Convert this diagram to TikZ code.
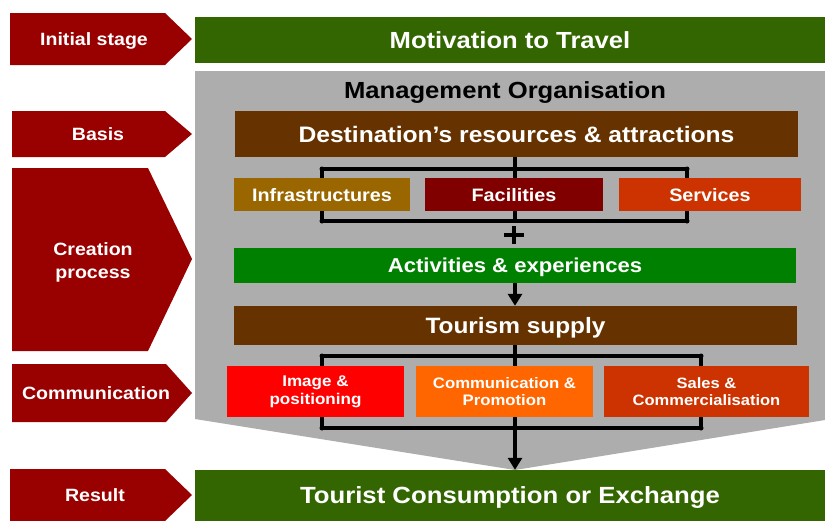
\documentclass[tikz,border=0pt]{standalone}
\usepackage{fontspec}
\setmainfont[FakeStretch=1.1]{Liberation Sans}
\usetikzlibrary{arrows.meta}
\definecolor{lblred}{HTML}{990000}
\definecolor{olivegreen}{HTML}{336600}
\definecolor{greybg}{HTML}{ADADAD}
\definecolor{brownbox}{HTML}{663300}
\definecolor{ochre}{HTML}{996600}
\definecolor{maroonbox}{HTML}{800000}
\definecolor{rustbox}{HTML}{CC3300}
\definecolor{greenbox}{HTML}{008000}
\definecolor{redbox}{HTML}{FF0000}
\definecolor{orangebox}{HTML}{FF6600}
\newcommand{\fsz}[1]{\fontsize{#1}{1.15\dimexpr#1pt\relax}\selectfont\bfseries}
\begin{document}
\begin{tikzpicture}[x=1pt,y=-1pt,
  box/.style={inner sep=0pt, text=white, align=center},
  onebox/.style={box, text depth=0pt},
  lbl/.style={inner sep=0pt, text=white, align=center, font=\fontsize{17.8}{23}\selectfont\bfseries},
  bracket/.style={line width=3.5pt, black},
  conn/.style={line width=3.5pt, black, -{Triangle[length=12pt,width=14pt]}},
  dot/.style={circle, fill=black, inner sep=0pt, minimum size=5pt}
]
\useasboundingbox (0,0) rectangle (825,520);

% left stage arrows
\fill[lblred] (10,13) -- (165,13) -- (192,39) -- (165,65) -- (10,65) -- cycle;
\fill[lblred] (12,111) -- (165,111) -- (192,134) -- (165,157) -- (12,157) -- cycle;
\fill[lblred] (12,168) -- (148,168) -- (192,259) -- (148,351) -- (12,351) -- cycle;
\fill[lblred] (12,364) -- (166,364) -- (192,393) -- (166,422) -- (12,422) -- cycle;
\fill[lblred] (10,469) -- (165,469) -- (192,495) -- (165,521) -- (10,521) -- cycle;
\node[lbl, text depth=0pt] (l1) at (94,39) {Initial stage};
\node[lbl, text depth=0pt] (l2) at (98,134) {Basis};
\node[lbl] (l3) at (93,262) {Creation\\process};
\node[lbl, text depth=0pt] (l4) at (96,393) {Communication};
\node[lbl, text depth=0pt] (l5) at (95,495) {Result};

% grey management area
\fill[greybg] (195,71) -- (825,71) -- (825,420) -- (515,470) -- (195,419) -- cycle;
\node[inner sep=0pt, text depth=0pt, font=\fsz{23.3}] (mgmt) at (505,90) {Management Organisation};

% top and bottom bars
\node[onebox, fill=olivegreen, minimum width=630pt, minimum height=46pt, font=\fsz{23.3}] (motiv) at (510,40) {Motivation to Travel};
\node[onebox, fill=olivegreen, minimum width=630pt, minimum height=51pt, font=\fsz{23.4}] (tourist) at (510,495.5) {Tourist Consumption or Exchange};

% destination
\node[onebox, fill=brownbox, minimum width=563pt, minimum height=46pt, font=\fsz{22.4}] (dest) at (516.5,134) {Destination’s resources \& attractions};

% first bracket
\coordinate (b1tl) at (322,169);
\coordinate (b1tr) at (687,169);
\coordinate (b1bl) at (322,221);
\coordinate (b1br) at (687,221);
\coordinate (b1tc) at (515,169);
\coordinate (b1bc) at (515,221);
\draw[bracket] (dest.south -| b1tc) -- (b1tc) -- (b1bc);
\draw[bracket] (b1tl) -- (b1tr) -- (b1br) -- (b1bl) -- cycle;
\node[dot] (d1) at (b1tl) {};
\node[dot] (d2) at (b1tr) {};
\node[dot] (d3) at (b1bl) {};
\node[dot] (d4) at (b1br) {};

\node[onebox, fill=ochre, minimum width=176pt, minimum height=33pt, font=\fsz{18}] (infra) at (322,194.5) {Infrastructures};
\node[onebox, fill=maroonbox, minimum width=178pt, minimum height=33pt, font=\fsz{18}] (facil) at (514,194.5) {Facilities};
\node[onebox, fill=rustbox, minimum width=182pt, minimum height=33pt, font=\fsz{18}] (serv) at (710,194.5) {Services};

% plus sign
\coordinate (plus) at (514,235);
\draw[line width=4pt] ([xshift=-10pt]plus) -- ([xshift=10pt]plus);
\draw[line width=4pt] ([yshift=-9pt]plus) -- ([yshift=9pt]plus);

\node[onebox, fill=greenbox, minimum width=562pt, minimum height=35pt, font=\fsz{20.1}] (activ) at (515,265.5) {Activities \& experiences};
\node[onebox, fill=brownbox, minimum width=563pt, minimum height=39pt, font=\fsz{22.2}] (supply) at (515.5,325.5) {Tourism supply};
\coordinate (axis) at (515,0);
\draw[conn] (activ.south -| axis) -- (supply.north -| axis);

% second bracket
\coordinate (b2tl) at (322,356);
\coordinate (b2tr) at (701,356);
\coordinate (b2bl) at (322,428);
\coordinate (b2br) at (701,428);
\coordinate (b2tc) at (515,356);
\coordinate (b2bc) at (515,428);
\draw[bracket] (supply.south -| b2tc) -- (b2tc) -- (b2bc);
\draw[bracket] (b2tl) -- (b2tr) -- (b2br) -- (b2bl) -- cycle;
\node[dot] (e1) at (b2tl) {};
\node[dot] (e2) at (b2tr) {};
\node[dot] (e3) at (b2bl) {};
\node[dot] (e4) at (b2br) {};
\draw[conn] (b2bc) -- (tourist.north -| b2bc);

\node[box, fill=redbox, minimum width=177pt, minimum height=51pt, font=\fsz{15.5}] (image) at (315.5,391.5) {Image \&\\positioning};
\node[box, fill=orangebox, minimum width=177pt, minimum height=51pt, font=\fsz{15.2}] (promo) at (504.5,391.5) {Communication \&\\Promotion};
\node[box, fill=rustbox, minimum width=205pt, minimum height=51pt, font=\fsz{15}] (sales) at (706.5,391.5) {Sales \&\\Commercialisation};
\end{tikzpicture}
\end{document}
